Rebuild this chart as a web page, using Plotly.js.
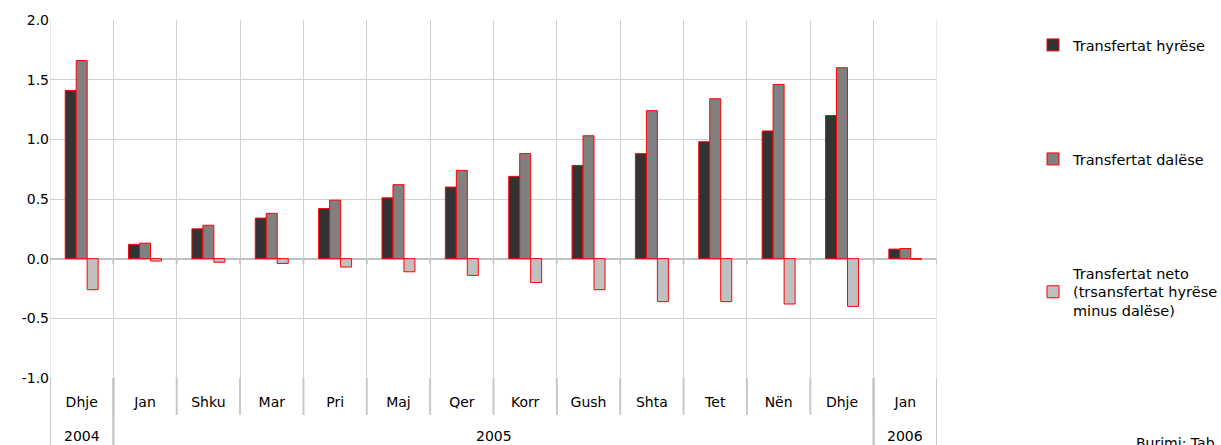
<!DOCTYPE html>
<html>
<head>
<meta charset="utf-8">
<script src="https://cdn.plot.ly/plotly-3.0.1.min.js"></script>
<style>html,body{margin:0;padding:0;background:#fff;}#chart{width:1221px;height:445px;}</style>
</head>
<body>
<div id="chart"></div>
<script>
var years = ['2004','2005','2005','2005','2005','2005','2005','2005','2005','2005','2005','2005','2005','2006'];
var months = ['Dhje','Jan','Shku','Mar','Pri','Maj','Qer','Korr','Gush','Shta','Tet','Nën','Dhje','Jan'];
var hyrese = [1.41,0.12,0.25,0.34,0.42,0.51,0.60,0.69,0.78,0.88,0.98,1.07,1.20,0.08];
var dalese = [1.66,0.13,0.28,0.38,0.49,0.62,0.74,0.88,1.03,1.24,1.34,1.46,1.60,0.085];
var neto   = [-0.26,-0.02,-0.03,-0.04,-0.07,-0.11,-0.14,-0.20,-0.26,-0.36,-0.36,-0.38,-0.40,-0.005];
var seriesNames = ['Transfertat hyrëse','Transfertat dalëse','Transfertat neto<br>(trsansfertat hyrëse<br>minus dalëse)'];
var yTicks = [-1.0,-0.5,0.0,0.5,1.0,1.5,2.0];

var FONT = 'DejaVu Sans, Verdana, sans-serif';
var n = months.length;
var xpos = months.map(function(_, i){ return i; });
var bounds = []; for (var b = 0; b <= n; b++) bounds.push(b - 0.5);

function bar(y, name, color, leg){
  return {type:'bar', x:xpos, y:y, name:name, legend:leg,
    marker:{color:color, line:{color:'#ff0000', width:1}}};
}
var data = [
  bar(hyrese, seriesNames[0], '#333333', 'legend'),
  bar(dalese, seriesNames[1], '#808080', 'legend2'),
  bar(neto, seriesNames[2], '#c0c0c0', 'legend3')
];

var SEP = '#c8c8c8';
var shapes = [];
bounds.forEach(function(bx){
  shapes.push({type:'line', xref:'x', yref:'paper', x0:bx, x1:bx, y0:0, y1:-0.103, line:{color:SEP, width:2}});
  shapes.push({type:'line', xref:'x', yref:'y', x0:bx, x1:bx, y0:0, y1:-0.045, line:{color:SEP, width:2}});
});
// plot edges
shapes.push({type:'line', xref:'x', yref:'paper', x0:bounds[0], x1:bounds[0], y0:0, y1:1, line:{color:'#d0d0d0', width:1}});
shapes.push({type:'line', xref:'x', yref:'paper', x0:bounds[n], x1:bounds[n], y0:0, y1:1, line:{color:'#d0d0d0', width:1}});

// year groups
var annotations = [];
var start = 0;
for (var i = 1; i <= n; i++) {
  if (i === n || years[i] !== years[start]) {
    var lo = start - 0.5, hi = i - 0.5;
    annotations.push({text:years[start], xref:'x', yref:'paper', x:(lo + hi) / 2, y:-0.162,
      xanchor:'center', yanchor:'middle', showarrow:false, font:{family:FONT, size:14, color:'#000'}});
    shapes.push({type:'line', xref:'x', yref:'paper', x0:lo, x1:lo, y0:0, y1:-0.19, line:{color:SEP, width:2}});
    shapes.push({type:'line', xref:'x', yref:'paper', x0:hi, x1:hi, y0:0, y1:-0.19, line:{color:SEP, width:2}});
    start = i;
  }
}
annotations.push({text:'Burimi: Tab', xref:'paper', yref:'paper', x:1.2221, y:-0.1536, xanchor:'left', yanchor:'top',
  showarrow:false, font:{family:FONT, size:14, color:'#000'}});

var legFont = {family:FONT, size:14.5, color:'#000'};
var layout = {
  width:1221, height:445,
  margin:{l:50, r:284, t:20, b:67},
  paper_bgcolor:'#ffffff', plot_bgcolor:'#ffffff',
  font:{family:FONT, size:14, color:'#000000'},
  barmode:'group', bargap:0.48, bargroupgap:0,
  showlegend:true,
  xaxis:{type:'linear', range:[bounds[0], bounds[n]], tickmode:'array', tickvals:xpos, ticktext:months,
    showgrid:false, zeroline:false, showline:false, ticks:'', ticklabelstandoff:14,
    tickfont:{family:FONT, size:14, color:'#000'},
    minor:{tickmode:'array', tickvals:bounds, showgrid:true, gridcolor:'#d0d0d0', gridwidth:1, ticks:''}},
  yaxis:{range:[-1,2], tickmode:'array', tickvals:yTicks, ticktext:yTicks.map(function(v){return v.toFixed(1);}),
    showgrid:true, gridcolor:'#d0d0d0', gridwidth:1,
    zeroline:true, zerolinecolor:'#c0c0c0', zerolinewidth:2, showline:false, ticks:'',
    tickfont:{family:FONT, size:14, color:'#000'}},
  legend:{xref:'container', yref:'container', x:1033/1221, y:1-29/445, xanchor:'left', yanchor:'top', bgcolor:'rgba(0,0,0,0)', font:legFont},
  legend2:{xref:'container', yref:'container', x:1033/1221, y:1-143/445, xanchor:'left', yanchor:'top', bgcolor:'rgba(0,0,0,0)', font:legFont},
  legend3:{xref:'container', yref:'container', x:1033/1221, y:1-257/445, xanchor:'left', yanchor:'top', bgcolor:'rgba(0,0,0,0)', font:legFont},
  shapes:shapes,
  annotations:annotations
};
Plotly.newPlot('chart', data, layout, {displayModeBar:false, staticPlot:true});
</script>
</body>
</html>
